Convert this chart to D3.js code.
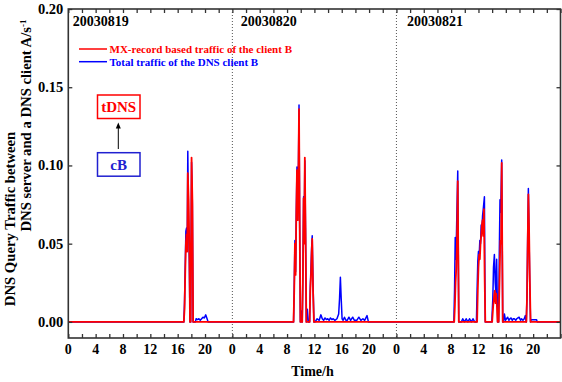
<!DOCTYPE html>
<html><head><meta charset="utf-8">
<script src="https://cdn.jsdelivr.net/npm/d3@7"></script>
<style>
body{margin:0;background:#fff}
svg{display:block}
text{font-family:"Liberation Serif","Times New Roman",serif;font-weight:bold}
</style>
</head><body>
<svg id="c" width="562" height="382"></svg>
<script>
// ---------- data ----------
const dayLabels = ["20030819", "20030820", "20030821"];
const hourTickLabels = [0, 4, 8, 12, 16, 20];
const yTickValues = [0, 0.05, 0.10, 0.15, 0.20];
const legendLabels = ["MX-record based traffic of the client B", "Total traffic of the DNS client B"];
const boxLabels = ["tDNS", "cB"];

// MX-record based traffic (red): time in hours from 2003-08-19 00:00, value in A/s
const redT = [0, 16.9, 17.0, 17.1, 17.2, 17.3, 17.4, 17.48, 17.6, 17.7, 17.8, 17.9, 18.03, 18.15, 18.26,
  32.95, 33.05, 33.15, 33.25, 33.35, 33.45, 33.55, 33.65, 33.75, 33.85, 33.95,
  34.22, 34.32, 34.42, 34.5, 34.6, 34.7, 34.82,
  35.3, 35.4, 35.5, 35.6, 35.68, 35.8, 35.93,
  56.45, 56.55, 56.65, 56.75, 56.85, 56.97, 57.12,
  59.8, 59.9, 60.0, 60.1, 60.2, 60.3, 60.4, 60.5, 60.6, 60.7, 60.8, 60.9, 61.0,
  62.0, 62.15, 62.3, 62.4, 62.5, 62.6, 62.7, 62.8, 62.95, 63.1, 63.2, 63.3, 63.4, 63.55,
  67.0, 67.1, 67.2, 67.3, 67.4, 67.5, 67.62, 72];
const redV = [0, 0, 0.008, 0.03, 0.05, 0.056, 0.045, 0.095, 0.078, 0.05, 0, 0, 0.105, 0.078, 0,
  0, 0.02, 0.05, 0.03, 0.068, 0.097, 0.065, 0.09, 0.136, 0.06, 0,
  0, 0.03, 0.079, 0.05, 0.105, 0.06, 0,
  0, 0.02, 0.03, 0.045, 0.053, 0.02, 0,
  0, 0.01, 0.025, 0.034, 0.05, 0.09, 0,
  0, 0.02, 0.035, 0.043, 0.04, 0.05, 0.055, 0.062, 0.065, 0.055, 0.072, 0.03, 0,
  0, 0.01, 0.017, 0.02, 0.012, 0.018, 0.01, 0, 0, 0.03, 0.052, 0.05, 0.1017, 0,
  0, 0.015, 0.05, 0.0815, 0.06, 0.03, 0, 0];

// Total traffic of the DNS client B (blue)
const blueT = [0, 16.9, 17.0, 17.1, 17.2, 17.3, 17.4, 17.48, 17.6, 17.7, 17.8, 17.9, 18.03, 18.15, 18.26,
  18.6, 18.7, 18.9, 19.1, 19.3, 19.5, 19.7, 19.9, 20.1, 20.3, 20.45,
  32.95, 33.05, 33.15, 33.25, 33.35, 33.45, 33.55, 33.65, 33.75, 33.85, 33.95, 34.05, 34.15,
  34.22, 34.32, 34.42, 34.5, 34.6, 34.7, 34.82, 34.97, 35.1,
  35.3, 35.4, 35.5, 35.6, 35.68, 35.8, 35.93,
  36.1, 36.4, 36.7, 36.95, 37.15, 37.35, 37.55, 37.75, 37.95, 38.15, 38.35, 38.55, 38.75, 39.0, 39.3,
  39.55, 39.68, 39.8, 39.92, 40.05, 40.2, 40.4, 40.6, 40.8, 41.05, 41.3, 41.6, 41.85, 42.2, 42.5,
  42.8, 43.1, 43.35, 43.7, 43.9,
  56.4, 56.5, 56.6, 56.7, 56.8, 56.97, 57.12, 57.5, 57.7, 57.95, 58.2, 58.45, 58.7, 58.95, 59.2, 59.45,
  59.7, 59.8, 59.9, 60.0, 60.1, 60.2, 60.3, 60.4, 60.5, 60.6, 60.7, 60.87, 60.95, 61.0,
  61.95, 62.1, 62.2, 62.33, 62.45, 62.55, 62.66, 62.8, 62.95, 63.05, 63.15, 63.25, 63.4, 63.55,
  63.65, 63.8, 63.95, 64.1, 64.27, 64.45, 64.6, 64.77, 64.95, 65.1, 65.25, 65.45, 65.6, 65.75, 65.95,
  66.15, 66.3, 66.5, 66.7, 66.85, 66.97,
  67.0, 67.1, 67.2, 67.3, 67.4, 67.5, 67.62, 67.7, 68.5, 68.6, 72];
const blueV = [0, 0, 0.012, 0.035, 0.058, 0.06, 0.05, 0.109, 0.06, 0.04, 0, 0, 0.102, 0.075, 0,
  0, 0.002, 0.0015, 0.002, 0.001, 0.002, 0.003, 0.0025, 0.0045, 0.002, 0,
  0, 0.022, 0.052, 0.032, 0.07, 0.099, 0.065, 0.092, 0.1386, 0.062, 0, 0.007, 0,
  0, 0.032, 0.08, 0.052, 0.103, 0.06, 0, 0.008, 0,
  0, 0.023, 0.035, 0.048, 0.055, 0.025, 0,
  0, 0.002, 0.001, 0.0045, 0.002, 0.001, 0.0025, 0.0015, 0.002, 0.001, 0.0025, 0.0015, 0.002, 0.001, 0.002,
  0.005, 0.015, 0.0285, 0.015, 0.002, 0.001, 0.003, 0.001, 0.001, 0.003, 0.001, 0.003, 0.001, 0.001, 0.003,
  0.001, 0.002, 0.001, 0.004, 0,
  0, 0.02, 0.054, 0.04, 0.06, 0.0964, 0, 0, 0.002, 0, 0.002, 0, 0.002, 0, 0.002, 0,
  0, 0.02, 0.0385, 0.045, 0.042, 0.052, 0.05, 0.062, 0.058, 0.068, 0.072, 0.080, 0.02, 0,
  0, 0.015, 0.035, 0.043, 0.025, 0.019, 0.04, 0, 0, 0.045, 0.078, 0.07, 0.1034, 0,
  0, 0.005, 0.001, 0.002, 0.003, 0.001, 0.002, 0.0025, 0.001, 0.002, 0.002, 0.001, 0.002, 0.0025, 0.003,
  0.001, 0.002, 0.001, 0.002, 0.004, 0,
  0, 0.018, 0.055, 0.0853, 0.055, 0.025, 0, 0.0013, 0.0013, 0, 0];

// ---------- drawing ----------
const svg = d3.select("#c");
const x = d3.scaleLinear().domain([0, 72]).range([68.3, 560.5]);
const y = d3.scaleLinear().domain([-0.0103, 0.20]).range([338, 9]);
const axisColor = "#333";
const pLeft = x(0), pRight = x(72), pTop = y(0.20), pBottom = y(-0.0103);

// day separators
[24, 48].forEach(h => {
  svg.append("line").attr("x1", x(h)).attr("x2", x(h)).attr("y1", pTop).attr("y2", pBottom)
    .attr("stroke", "#555").attr("stroke-width", 1).attr("stroke-dasharray", "1,2");
});

// series
const line = d3.line().x(d => x(d[0])).y(d => y(d[1]));
const blueData = blueT.map((t, i) => [t, blueV[i]]);
const redData = redT.map((t, i) => [t, redV[i]]);
svg.append("path").datum(blueData).attr("d", line).attr("fill", "none")
  .attr("stroke", "#0000ff").attr("stroke-width", 1.5).attr("stroke-linejoin", "round");
svg.append("path").datum(redData).attr("d", line).attr("fill", "none")
  .attr("stroke", "#ff0000").attr("stroke-width", 1.8).attr("stroke-linejoin", "round");

// axes (ticks inward)
const hourTicks = d3.range(0, 72.01, 2);
const xb = d3.axisBottom(x).tickValues(hourTicks).tickSize(-4).tickFormat("");
const xt = d3.axisTop(x).tickValues(hourTicks).tickSize(-4).tickFormat("");
const yl = d3.axisLeft(y).tickValues(yTickValues).tickSize(-4).tickFormat("");
const yr = d3.axisRight(y).tickValues(yTickValues).tickSize(-4).tickFormat("");
function styleAxis(g) {
  g.selectAll("path").remove();
  g.selectAll("line").attr("stroke", axisColor).attr("stroke-width", 1.3);
}
svg.append("g").attr("transform", `translate(0,${pBottom})`).call(xb).call(styleAxis);
svg.append("g").attr("transform", `translate(0,${pTop})`).call(xt).call(styleAxis);
svg.append("g").attr("transform", `translate(${pLeft},0)`).call(yl).call(styleAxis);
svg.append("g").attr("transform", `translate(${pRight},0)`).call(yr).call(styleAxis);
svg.append("rect").attr("x", pLeft).attr("y", pTop).attr("width", pRight - pLeft).attr("height", pBottom - pTop)
  .attr("fill", "none").attr("stroke", axisColor).attr("stroke-width", 1.6);

// tick labels
const labelHours = d3.range(0, 72, 4);
svg.append("g").selectAll("text").data(labelHours).join("text")
  .attr("x", d => x(d)).attr("y", 354).attr("text-anchor", "middle").attr("font-size", 14)
  .text(d => hourTickLabels[(d % 24) / 4]);
svg.append("g").selectAll("text").data(yTickValues).join("text")
  .attr("x", pLeft - 5).attr("y", d => y(d) + 5).attr("text-anchor", "end").attr("font-size", 14.5)
  .text(d => d3.format(".2f")(d));

// day labels
const dayOffsets = [4.5, 8.5, 10.5];
dayLabels.forEach((lab, i) => {
  svg.append("text").attr("x", x(i * 24) + dayOffsets[i]).attr("y", 26).attr("font-size", 14).text(lab);
});

// legend
const legendColors = ["#ff0000", "#0000ff"];
legendLabels.forEach((lab, i) => {
  const ly = [49, 61.7][i];
  svg.append("line").attr("x1", 79).attr("x2", 107).attr("y1", ly).attr("y2", ly)
    .attr("stroke", legendColors[i]).attr("stroke-width", 1.5);
  svg.append("text").attr("x", 109.5).attr("y", ly + 4).attr("font-size", 11)
    .attr("fill", legendColors[i]).text(lab);
});

// annotation boxes
const boxes = [{y0: 95, c: "#ff0000"}, {y0: 152.7, c: "#2020d0"}];
boxLabels.forEach((lab, i) => {
  const b = boxes[i];
  svg.append("rect").attr("x", 97.5).attr("y", b.y0).attr("width", 42.5).attr("height", 23.5)
    .attr("fill", "none").attr("stroke", b.c).attr("stroke-width", 1.5);
  svg.append("text").attr("x", 118.7).attr("y", b.y0 + 17).attr("text-anchor", "middle")
    .attr("font-size", 15).attr("fill", b.c).text(lab);
});
// arrow
svg.append("line").attr("x1", 118.3).attr("x2", 118.3).attr("y1", 149).attr("y2", 127)
  .attr("stroke", "#000").attr("stroke-width", 1);
svg.append("path").attr("d", "M118.3,122.5 L115.8,128.5 L120.8,128.5 Z").attr("fill", "#000");

// axis titles
svg.append("text").attr("transform", "translate(15,219) rotate(-90)").attr("text-anchor", "middle")
  .attr("font-size", 14.7).text("DNS Query Traffic between");
const t2 = svg.append("text").attr("transform", "translate(31,125.5) rotate(-90)").attr("text-anchor", "middle")
  .attr("font-size", 14.7);
t2.append("tspan").text("DNS server and a DNS client A/s");
t2.append("tspan").attr("dy", -5).attr("font-size", 9).text("-1");
svg.append("text").attr("x", 312.5).attr("y", 376).attr("text-anchor", "middle").attr("font-size", 14).text("Time/h");
</script>
</body></html>
